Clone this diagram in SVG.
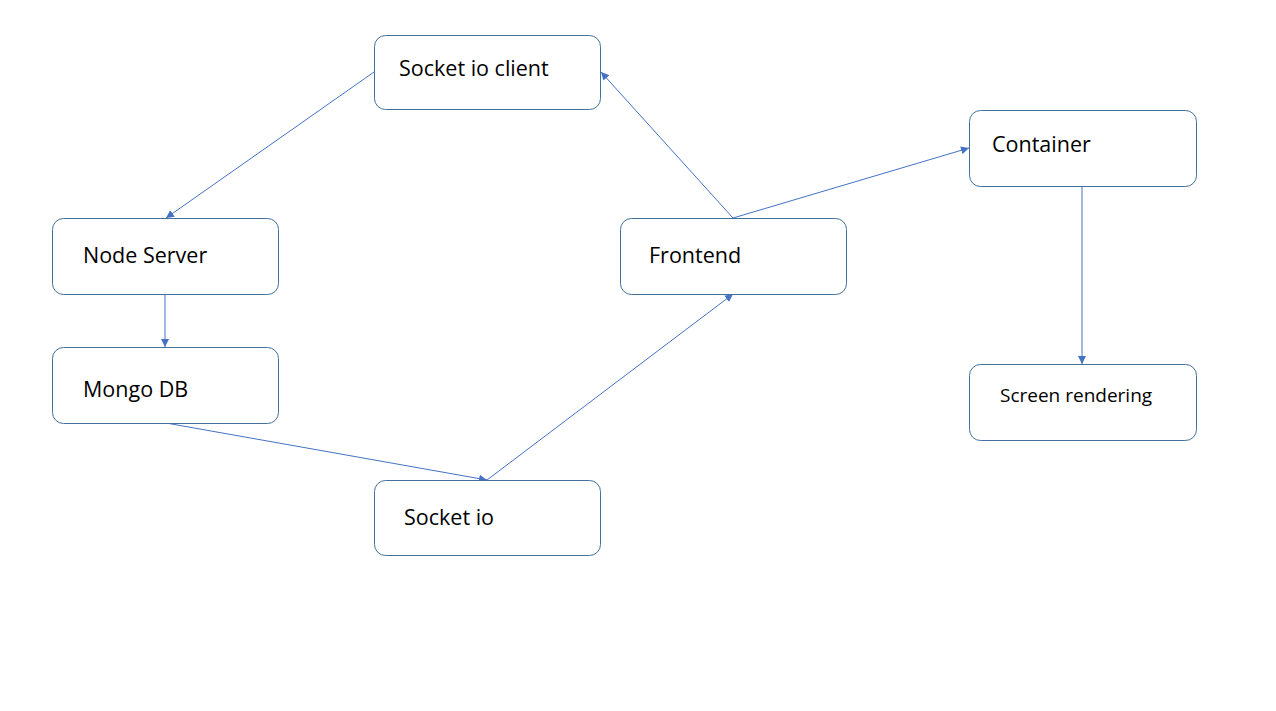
<svg xmlns="http://www.w3.org/2000/svg" width="1276" height="711" viewBox="0 0 1276 711">
<style>
.box{fill:#ffffff;stroke:#41719C;stroke-width:1}
.lbl{font-family:"Open Sans","Liberation Sans",sans-serif;font-size:21.5px;fill:#000}
.sm{font-size:19px}
.con{stroke:#4472C4;stroke-width:1;fill:none;marker-end:url(#ah)}
</style>
<defs>
<marker id="ah" viewBox="0 0 10 10" refX="10" refY="5" markerWidth="8" markerHeight="8" markerUnits="userSpaceOnUse" orient="auto">
<path d="M0,0 L10,5 L0,10 z" fill="#4472C4"/>
</marker>
</defs>
<rect width="1276" height="711" fill="#ffffff"/>
<g id="connectors">
<line class="con" x1="374" y1="72" x2="166" y2="218"/>
<line class="con" x1="165" y1="294" x2="165" y2="347"/>
<line class="con" x1="166" y1="423" x2="487" y2="480"/>
<line class="con" x1="487" y1="480" x2="733" y2="294"/>
<line class="con" x1="733" y1="218" x2="601" y2="72"/>
<line class="con" x1="733" y1="218" x2="969" y2="148"/>
<line class="con" x1="1082" y1="186" x2="1082" y2="364"/>
</g>
<g id="socket-io-client"><rect class="box" x="374.5" y="35.5" width="226" height="74" rx="11"/><text class="lbl" x="399" y="76">Socket io client</text></g>
<g id="node-server"><rect class="box" x="52.5" y="218.5" width="226" height="76" rx="11"/><text class="lbl" x="83" y="263">Node Server</text></g>
<g id="mongo-db"><rect class="box" x="52.5" y="347.5" width="226" height="76" rx="11"/><text class="lbl" x="83" y="397">Mongo DB</text></g>
<g id="socket-io"><rect class="box" x="374.5" y="480.5" width="226" height="75" rx="11"/><text class="lbl" x="404" y="525">Socket io</text></g>
<g id="frontend"><rect class="box" x="620.5" y="218.5" width="226" height="76" rx="11"/><text class="lbl" x="649" y="263">Frontend</text></g>
<g id="container"><rect class="box" x="969.5" y="110.5" width="227" height="76" rx="11"/><text class="lbl" x="992" y="152">Container</text></g>
<g id="screen-rendering"><rect class="box" x="969.5" y="364.5" width="227" height="76" rx="11"/><text class="lbl sm" x="1000" y="402">Screen rendering</text></g>
</svg>
